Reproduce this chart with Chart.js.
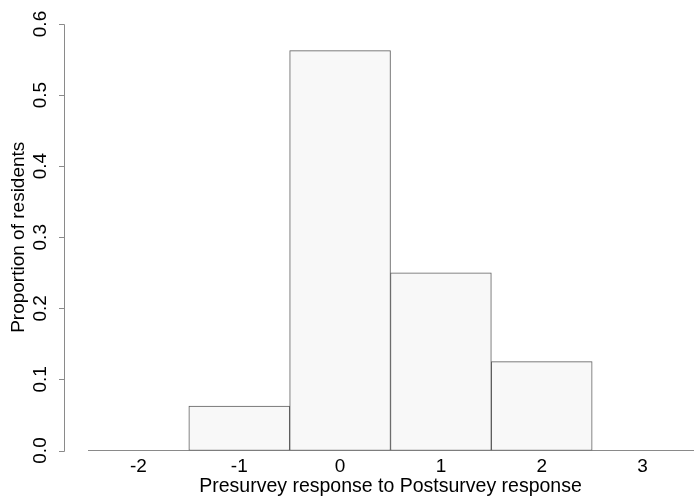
<!DOCTYPE html>
<html>
<head>
<meta charset="utf-8">
<script src="https://cdn.jsdelivr.net/npm/chart.js@4/dist/chart.umd.min.js"></script>
<style>
  html, body { margin: 0; padding: 0; background: #fff; }
  #wrap { width: 697px; height: 497px; position: relative; }
</style>
</head>
<body>
<div id="wrap"><canvas id="histChart"></canvas></div>
<script>
// ===================== Data =====================
const categories = ['-2', '-1', '0', '1', '2', '3'];
const proportions = [0, 0.0625, 0.5625, 0.25, 0.125, 0];
const yTickValues = [0, 0.1, 0.2, 0.3, 0.4, 0.5, 0.6];
const yTickLabels = ['0.0', '0.1', '0.2', '0.3', '0.4', '0.5', '0.6'];
const xTitle = 'Presurvey response to Postsurvey response';
const yTitle = 'Proportion of residents';

const FONT = '"Liberation Sans", Arial, Helvetica, sans-serif';
const AXIS_GRAY = '#8a8a8a';

// R-style detached y axis drawn next to the plot
const rAxisPlugin = {
    id: 'rAxis',
    afterDraw(chart) {
        const ctx = chart.ctx;
        const y = chart.scales.y;
        const axisX = 64;
        const top = y.getPixelForValue(yTickValues[yTickValues.length - 1]);
        const bottom = y.getPixelForValue(yTickValues[0]);

        ctx.save();
        ctx.strokeStyle = AXIS_GRAY;
        ctx.lineWidth = 1;
        ctx.beginPath();
        ctx.moveTo(axisX + 0.5, Math.round(top) + 0.5);
        ctx.lineTo(axisX + 0.5, Math.round(bottom) + 0.5);
        yTickValues.forEach(v => {
            const py = Math.round(y.getPixelForValue(v)) + 0.5;
            ctx.moveTo(axisX - 5, py);
            ctx.lineTo(axisX + 0.5, py);
        });
        ctx.stroke();

        ctx.fillStyle = '#000';
        ctx.font = '19px ' + FONT;
        ctx.textAlign = 'center';
        ctx.textBaseline = 'middle';
        yTickValues.forEach((v, i) => {
            ctx.save();
            ctx.translate(41, y.getPixelForValue(v));
            ctx.rotate(-Math.PI / 2);
            ctx.fillText(yTickLabels[i], 0, 0);
            ctx.restore();
        });

        ctx.save();
        ctx.translate(19, (top + bottom) / 2);
        ctx.rotate(-Math.PI / 2);
        ctx.fillText(yTitle, 0, 0);
        ctx.restore();
        ctx.restore();
    }
};

function setupChart() {
    new Chart(document.getElementById('histChart').getContext('2d'), {
        type: 'bar',
        data: {
            labels: categories,
            datasets: [{
                data: proportions,
                backgroundColor: '#f8f8f8',
                borderColor: '#5e5e5e',
                borderWidth: 1,
                borderSkipped: false,
                barPercentage: 1,
                categoryPercentage: 1
            }]
        },
        options: {
            responsive: true,
            maintainAspectRatio: false,
            animation: false,
            layout: { padding: { left: 88, top: 24, right: 4, bottom: 1 } },
            plugins: {
                legend: { display: false },
                tooltip: { enabled: false }
            },
            scales: {
                x: {
                    grid: { display: false, drawTicks: false },
                    border: { display: true, color: AXIS_GRAY, width: 1 },
                    ticks: {
                        color: '#000',
                        padding: 7,
                        maxRotation: 0,
                        font: { family: FONT, size: 19, lineHeight: 1 }
                    },
                    title: {
                        display: true,
                        text: xTitle,
                        color: '#000',
                        padding: { top: -7, bottom: 0 },
                        font: { family: FONT, size: 19.5, lineHeight: 1 }
                    }
                },
                y: {
                    display: false,
                    min: 0,
                    max: 0.6
                }
            }
        },
        plugins: [rAxisPlugin]
    });
}

document.addEventListener('DOMContentLoaded', setupChart);
</script>
</body>
</html>
